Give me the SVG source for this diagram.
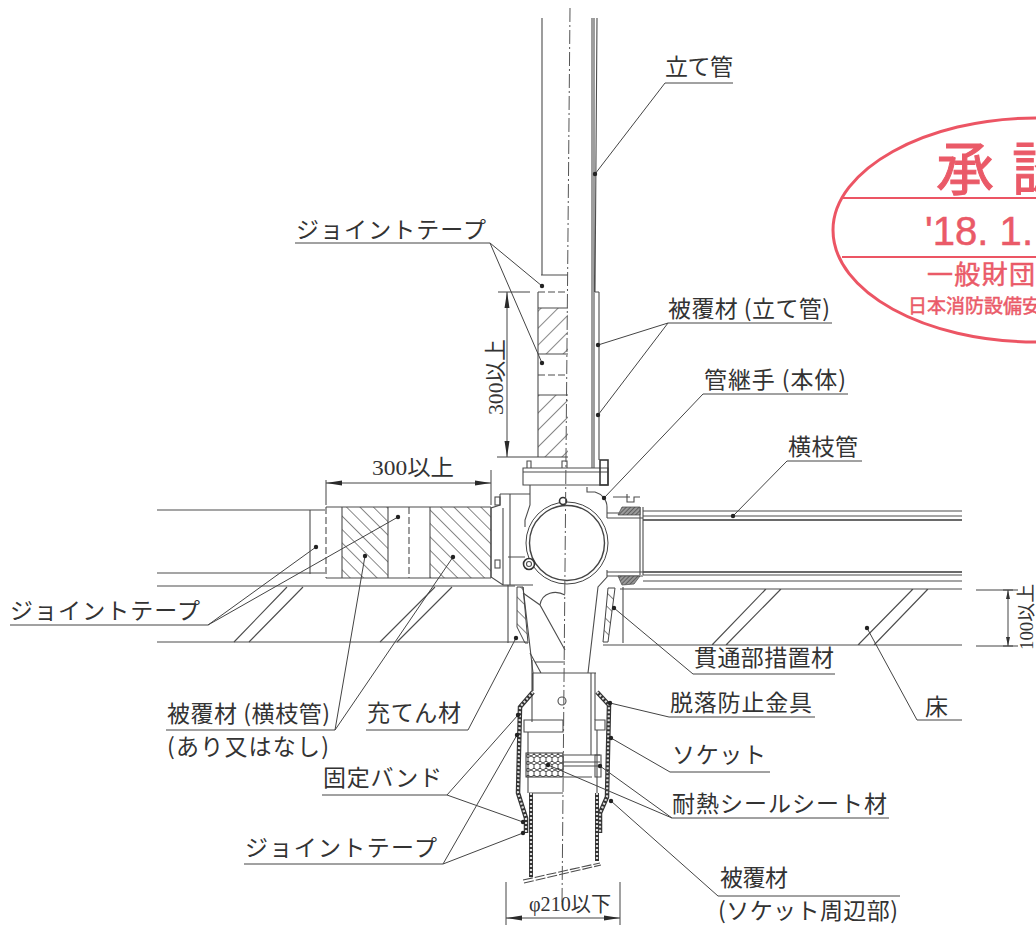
<svg xmlns="http://www.w3.org/2000/svg" width="1036" height="925" viewBox="0 0 1036 925">
<style>
.l{fill:none;stroke:#4d4d4d;stroke-width:1.1}
.t{fill:none;stroke:#3a3a3a;stroke-width:1.6}
.d{stroke-dasharray:7 3}
.c{fill:none;stroke:#555;stroke-width:1;stroke-dasharray:14 3 2 3}
.lead{fill:none;stroke:#444;stroke-width:1}
.dot{fill:#222;stroke:none}
.dim{fill:none;stroke:#444;stroke-width:1;marker-start:url(#a);marker-end:url(#a)}
.txt{font-family:"Noto Sans CJK JP","Liberation Sans",sans-serif;font-size:23px;fill:#333}
.dimt{font-family:"Liberation Serif","Noto Sans CJK JP",serif;font-size:22px;fill:#333}
.st{fill:none;stroke:#ec5564;stroke-width:3}
.stt{font-family:"Noto Sans CJK JP","Liberation Sans",sans-serif;fill:#ea5a68;stroke:#ea5a68;stroke-width:.5}
.w1{fill:none;stroke:#333;stroke-width:4.5}
.w2{fill:none;stroke:#ddd;stroke-width:2.2;stroke-dasharray:2 2}
</style>
<defs>
<marker id="a" viewBox="0 0 16 6" refX="16" refY="3" markerWidth="16" markerHeight="6" markerUnits="userSpaceOnUse" orient="auto-start-reverse"><path d="M0,0.5 L16,3 L0,5.5 Z" fill="#2a2a2a"/></marker>
<pattern id="hf" width="12" height="12" patternUnits="userSpaceOnUse" patternTransform="rotate(45)"><path d="M0,0V12" stroke="#555" stroke-width="1.4"/></pattern>
<pattern id="hb" width="9.5" height="9.5" patternUnits="userSpaceOnUse" patternTransform="rotate(-45)"><path d="M0,0V9.5" stroke="#555" stroke-width="1.4"/></pattern>
<pattern id="hx" width="6" height="7" patternUnits="userSpaceOnUse"><path d="M0,1.7L3,0L6,1.7V5.2L3,7L0,5.2Z" fill="#fff" stroke="#333" stroke-width=".9"/></pattern>
<pattern id="hd" width="3" height="3" patternUnits="userSpaceOnUse" patternTransform="rotate(45)"><rect width="3" height="3" fill="#999"/><path d="M0,0V3" stroke="#444" stroke-width="1.4"/></pattern>
</defs>
<rect width="1036" height="925" fill="#fff"/>

<g id="riser">
<path class="l" d="M542,18V275M592,18V468M594,18V468M597,18L595,292"/>
<path class="l" d="M599,292V460M595,292H599"/>
</g>
<g id="riser-cover">
<rect x="538" y="308" width="30" height="46" fill="url(#hf)"/>
<rect x="538" y="395" width="30" height="62" fill="url(#hf)"/>
<path class="l" d="M541,275H568M538,292V457M538,308H568M538,354H568M538,395H568"/>
<path class="l d" d="M538,292H568M538,375H568"/>
</g>
<g id="branch-left">
<path class="l" d="M157,510H325M157,573H325M157,586H515M157,642H527M310,510V574"/>
<rect x="342" y="507" width="46" height="71" fill="url(#hb)"/>
<rect x="430" y="507" width="61" height="71" fill="url(#hb)"/>
<path class="l" d="M326,507H491M326,578H491M342,507V578M388,507V578M430,507V578M491,507V578"/>
<path class="l d" d="M326,507V578M409,507V578"/>
<path class="l" d="M234,642L287,587M249,642L303,587M380,642L435,587M397,642L452,587"/>
</g>
<g id="branch-right">
<path class="l" d="M643,511H962M643,516H962"/><path class="t" d="M643,520H962M643,572H962"/>
<path class="l" d="M643,575H962M643,581H962"/>
<path class="l" d="M620,589H962M603,645H962M712,645L766,589M726,645L781,589M858,645L913,589M874,645L928,589"/>
</g>
<g id="joint-body">
<path class="l" d="M523,468H608V485H523ZM523,472H608"/>
<path class="l" d="M527,468V461H531V468M562,468V461H567V468"/>
<rect x="600" y="460" width="8" height="25" class="t"/>
<path class="l" d="M530,485V505L525,520V527M500,494H530M500,494V505L491,508V577L503,585H533M503,508V585M510,494V585M508,557H525"/>
<rect x="495" y="497" width="5" height="8" class="l"/><rect x="495" y="560" width="5" height="8" class="l"/>
<circle cx="567" cy="543" r="41" fill="#fff" stroke="#444" stroke-width="1"/>
<circle cx="567" cy="543" r="37.5" fill="#fff" stroke="#444" stroke-width="1.4"/>
<circle cx="529" cy="564" r="5.5" fill="#fff" stroke="#333" stroke-width="1.6"/><circle cx="529" cy="564" r="2.5" class="l"/>
<circle cx="563" cy="501" r="3.5" fill="#fff" stroke="#333" stroke-width="1.6"/>
<path class="l" d="M587,487V492H595C602,494 607,500 607,507V518M607,513H640M607,518H643M643,507V575M640,507V575M607,570V577L598,587L588,673M607,572H643M607,576H643M523,587L533,673"/>
<path d="M618,515L622,507H640V515Z" fill="url(#hd)" stroke="#444" stroke-width=".7"/>
<path d="M618,576H640L634,584L622,585Z" fill="url(#hd)" stroke="#444" stroke-width=".7"/>
<path class="l" d="M613,497H630M627,494V502H634V497H640"/>
<path class="l" d="M523,593L540,605L565,650M540,605C542,592 556,590 565,595M530,653L541,673M535,662H565M533,673H596M508,585V643M623,587V643"/>
</g>
<g id="filler">
<path d="M517,587H523L528,643H525L517,627Z" fill="url(#hb)" stroke="#444"/>
<path d="M608,588H615L608,642H603Z" fill="url(#hb)" stroke="#444"/>
</g>
<g id="socket">
<path class="l" d="M532,660V722M591,673V755M595,673V720M533,673V691"/>
<path class="w1" d="M533,692L520,707L518,793L526,818V833M597,692L609,705L607,797L600,813V833"/>
<path class="w2" d="M533,692L520,707L518,793L526,818V833M597,692L609,705L607,797L600,813V833"/>
<path class="l" d="M524,720H563V732H524ZM528,732V793M529,793H563"/>
<rect x="526" y="753" width="37" height="24" fill="url(#hx)" stroke="#333"/>
<path class="l" d="M563,755H600M563,762H600M563,766H600M563,777H592"/>
<path class="l" d="M595,720H605V730H595ZM597,730V793M595,755H601V777H595Z"/>
<path class="w1" d="M531,793V877M597,793V861" style="stroke-width:4"/>
<path class="w2" d="M531,793V877M597,793V861"/>
<path class="l" d="M523,880L600,863M524,883L601,865" stroke-dasharray="10 2"/>
<circle cx="562" cy="701" r="4" class="l"/>
</g>
<g id="centerline"><path class="c" d="M570,8L562,905"/></g>

<g id="connectors">
<path class="lead" d="M665,83L595,174M490,243L542,286M490,243L542,363M668,323L598,345M668,323L598,415M703,394L604,498M787,461L733,516M208,625L316,547M208,625L398,517M335,730L365,556M335,730L453,557M468,730L516,638M693,674L614,608M917,720L867,628M669,717L610,703M670,772L611,738M672,818L600,766M672,818L548,765M718,896L611,801M447,795L518,715M447,795L523,822M443,864L517,735M443,864L523,833"/>
<g class="dot"><circle cx="595" cy="174" r="2.2"/><circle cx="542" cy="286" r="2.2"/><circle cx="542" cy="363" r="2.2"/><circle cx="598" cy="345" r="2.2"/><circle cx="598" cy="415" r="2.2"/><circle cx="604" cy="498" r="2.2"/><circle cx="733" cy="516" r="2.2"/><circle cx="316" cy="547" r="2.2"/><circle cx="398" cy="517" r="2.2"/><circle cx="365" cy="556" r="2.2"/><circle cx="453" cy="557" r="2.2"/><circle cx="516" cy="638" r="2.2"/><circle cx="614" cy="608" r="2.2"/><circle cx="867" cy="628" r="2.2"/><circle cx="610" cy="703" r="2.2"/><circle cx="611" cy="738" r="2.2"/><circle cx="600" cy="766" r="2.2"/><circle cx="548" cy="765" r="2.2"/><circle cx="611" cy="801" r="2.2"/><circle cx="518" cy="715" r="2.2"/><circle cx="523" cy="822" r="2.2"/><circle cx="517" cy="735" r="2.2"/><circle cx="523" cy="833" r="2.2"/></g>
</g>

<g id="dimensions">
<path class="lead" d="M498,292H530M497,457H568M491,470V505M326,480V505M976,590H1018M976,646H1018M506,882V925M620,882V925"/>
<path class="dim" d="M507,292V457"/>
<path class="dim" d="M326,483H491"/>
<path class="dim" d="M506,918H620"/>
<path class="lead" d="M1008,590V646M1003,590H1013M1003,646H1013"/>
<path d="M1008,590L1006,599H1010ZM1008,646L1006,637H1010Z" fill="#333"/>
<text class="dimt" transform="translate(503,377) rotate(-90)" text-anchor="middle" textLength="76" lengthAdjust="spacingAndGlyphs">300以上</text>
<text class="dimt" x="413" y="475" text-anchor="middle" textLength="82" lengthAdjust="spacingAndGlyphs">300以上</text>
<text class="dimt" style="font-size:19px" transform="translate(1033,617) rotate(-90)" text-anchor="middle" textLength="66" lengthAdjust="spacingAndGlyphs">100以上</text>
<text class="dimt" x="529" y="911" style="font-size:21px" textLength="82" lengthAdjust="spacingAndGlyphs">φ210以下</text>
</g>

<g id="l-tatekan"><text class="txt" x="665" y="75" textLength="68">立て管</text><path class="lead" d="M665,83H733"/></g>
<g id="l-tape1"><text class="txt" x="296" y="238" textLength="190">ジョイントテープ</text><path class="lead" d="M295,243H490"/></g>
<g id="l-cover1"><text class="txt" x="668" y="317" textLength="162">被覆材 (立て管)</text><path class="lead" d="M668,323H832"/></g>
<g id="l-joint"><text class="txt" x="704" y="388" textLength="142">管継手 (本体)</text><path class="lead" d="M703,394H848"/></g>
<g id="l-branch"><text class="txt" x="788" y="455" textLength="70">横枝管</text><path class="lead" d="M787,461H862"/></g>
<g id="l-tape2"><text class="txt" x="10" y="619" textLength="190">ジョイントテープ</text><path class="lead" d="M10,625H208"/></g>
<g id="l-cover2"><text class="txt" x="167" y="722" textLength="163">被覆材 (横枝管)</text><path class="lead" d="M166,730H335"/><text class="txt" x="167" y="755" textLength="162">(あり又はなし)</text></g>
<g id="l-filler"><text class="txt" x="367" y="721" textLength="94">充てん材</text><path class="lead" d="M366,730H468"/></g>
<g id="l-penetration"><text class="txt" x="694" y="666" textLength="140">貫通部措置材</text><path class="lead" d="M693,674H835"/></g>
<g id="l-floor"><text class="txt" x="925" y="715">床</text><path class="lead" d="M917,720H962"/></g>
<g id="l-fitting"><text class="txt" x="670" y="711" textLength="142">脱落防止金具</text><path class="lead" d="M669,717H815"/></g>
<g id="l-socket"><text class="txt" x="672" y="763" textLength="94">ソケット</text><path class="lead" d="M670,772H770"/></g>
<g id="l-seal"><text class="txt" x="672" y="812" textLength="215">耐熱シールシート材</text><path class="lead" d="M672,818H889"/></g>
<g id="l-cover3"><text class="txt" x="720" y="886" textLength="68">被覆材</text><path class="lead" d="M718,896H900"/><text class="txt" x="718" y="919" textLength="180">(ソケット周辺部)</text></g>
<g id="l-band"><text class="txt" x="323" y="786" textLength="119">固定バンド</text><path class="lead" d="M322,795H447"/></g>
<g id="l-tape3"><text class="txt" x="245" y="856" textLength="192">ジョイントテープ</text><path class="lead" d="M244,864H443"/></g>

<g id="stamp">
<path class="st" d="M1036,118C925,118 833,170 833,230C833,292 925,342 1036,342"/>
<path class="st" style="stroke-width:2" d="M842,198H1036M842,257H1036"/>
<text class="stt" x="936" y="190" style="font-size:58px;stroke-width:1">承</text>
<text class="stt" x="1012" y="190" style="font-size:58px;stroke-width:1">認</text>
<text class="stt" x="925" y="245" style="font-family:'Liberation Sans',sans-serif;font-size:40px" textLength="108" lengthAdjust="spacing">'18. 1.</text>
<text class="stt" x="927" y="284" style="font-size:26px" textLength="108">一般財団</text>
<text class="stt" x="908" y="313" style="font-size:19px" textLength="152">日本消防設備安全</text>
</g>
</svg>
